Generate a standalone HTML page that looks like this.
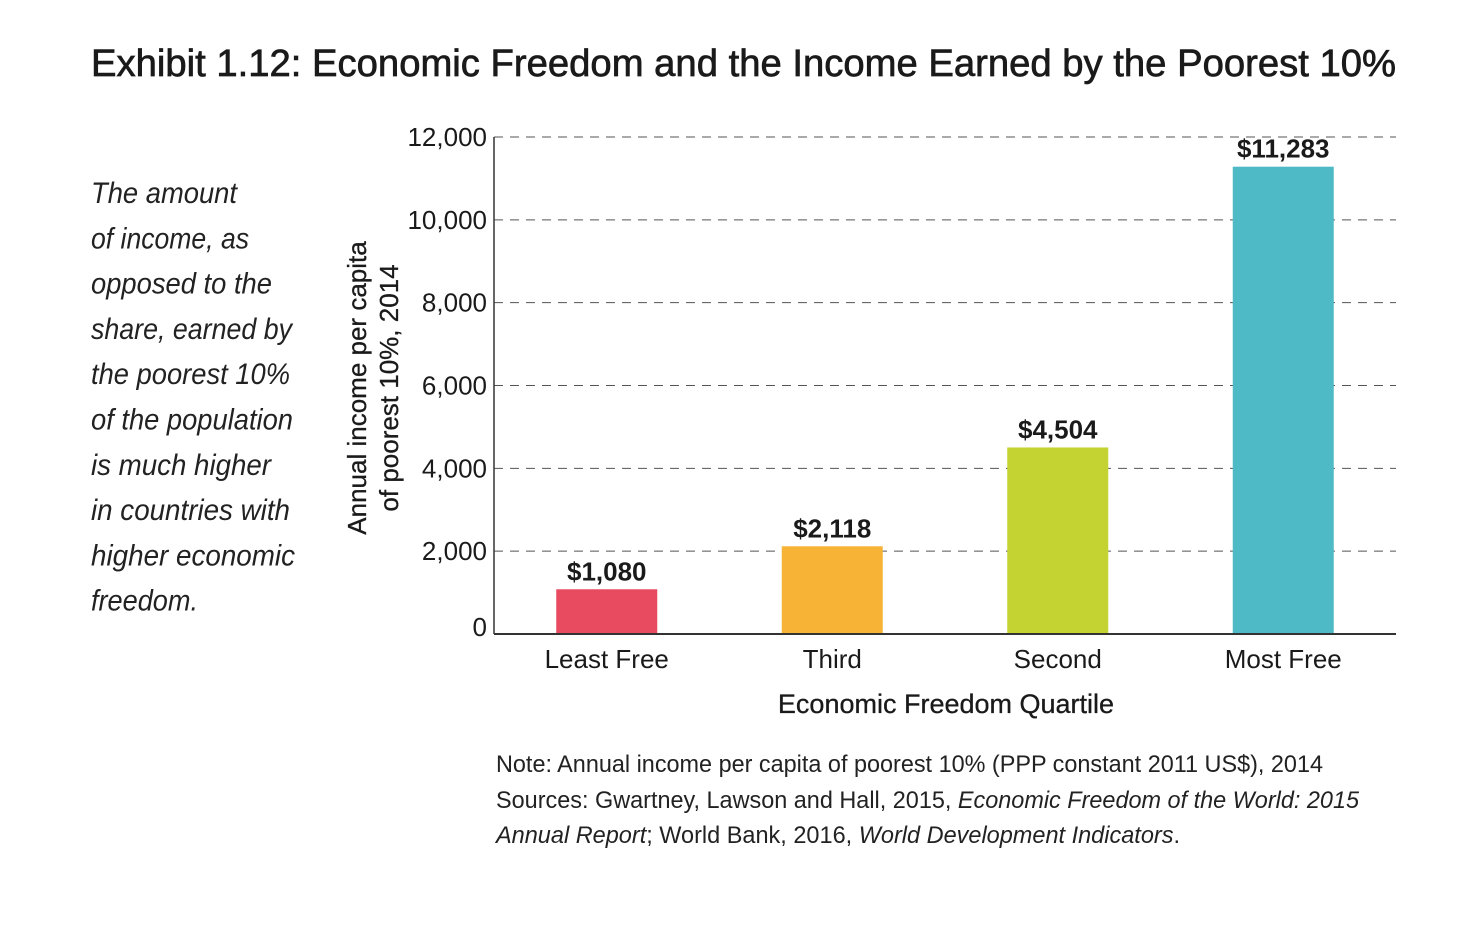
<!DOCTYPE html>
<html><head><meta charset="utf-8"><style>
body{margin:0;background:#fff;}
svg{display:block;font-family:"Liberation Sans",sans-serif;}
</style></head><body>
<svg id="chart" width="1480" height="936" viewBox="0 0 1480 936">
<text x="91" y="76" font-size="38" fill="#1a1a1a" stroke="#1a1a1a" stroke-width="0.7" textLength="1305" lengthAdjust="spacingAndGlyphs">Exhibit 1.12: Economic Freedom and the Income Earned by the Poorest 10%</text>
<g id="side" font-style="italic" font-size="30" fill="#222"></g>
<g id="grid"></g>
<g id="yticks"></g>
<g id="bars"></g>
<g id="xlabels"></g>
<line x1="494" y1="137" x2="494" y2="634" stroke="#333" stroke-width="1.5"/>
<line x1="494" y1="634" x2="1396" y2="634" stroke="#333" stroke-width="2"/>
<g transform="translate(366,388) rotate(-90)" font-size="26" fill="#1a1a1a" stroke="#1a1a1a" stroke-width="0.3" text-anchor="middle">
<text x="0" y="0">Annual income per capita</text>
<text x="0" y="32">of poorest 10%, 2014</text>
</g>
<text x="946" y="713" font-size="27" fill="#1a1a1a" stroke="#1a1a1a" stroke-width="0.3" text-anchor="middle">Economic Freedom Quartile</text>
<g font-size="24" fill="#222">
<text x="496" y="772" textLength="827" lengthAdjust="spacingAndGlyphs">Note: Annual income per capita of poorest 10% (PPP constant 2011 US$), 2014</text>
<text x="496" y="808" textLength="863" lengthAdjust="spacingAndGlyphs">Sources: Gwartney, Lawson and Hall, 2015, <tspan font-style="italic">Economic Freedom of the World: 2015</tspan></text>
<text x="496" y="843" textLength="684" lengthAdjust="spacingAndGlyphs"><tspan font-style="italic">Annual Report</tspan>; World Bank, 2016, <tspan font-style="italic">World Development Indicators</tspan>.</text>
</g>
</svg>
<script>
const categories = ["Least Free","Third","Second","Most Free"];
const values = [1080,2118,4504,11283];
const valueLabels = ["$1,080","$2,118","$4,504","$11,283"];
const colors = ["#e84a5f","#f6b335","#c4d232","#4dbac6"];
const yTicks = [0,2000,4000,6000,8000,10000,12000];
const yTickLabels = ["0","2,000","4,000","6,000","8,000","10,000","12,000"];
const sideLines = ["The amount","of income, as","opposed to the","share, earned by","the poorest 10%","of the population","is much higher","in countries with","higher economic","freedom."];
const sideWidths = [146,158,181,201,199,202,180,199,204,107];

const NS="http://www.w3.org/2000/svg";
const X0=494,X1=1396,Y0=634,Y1=137;
const y=v=>Y0-(v/12000)*(Y0-Y1);
const band=(X1-X0)/categories.length;
const xc=i=>X0+band*(i+0.5);
const bw=101;
function mk(t,a,p,txt){const e=document.createElementNS(NS,t);for(const k in a)e.setAttribute(k,a[k]);if(txt!==undefined)e.textContent=txt;p.appendChild(e);return e;}
const side=document.getElementById('side');
sideLines.forEach((s,i)=>{const e=mk('text',{x:91,y:203+i*45.3,textLength:sideWidths[i],lengthAdjust:'spacingAndGlyphs'},side,s);

});
const grid=document.getElementById('grid'),yt=document.getElementById('yticks');
yTicks.forEach((v,i)=>{
 if(v>0){const l=mk('line',{x1:X0,x2:X1,y1:y(v),y2:y(v),stroke:'#555','stroke-width':1,'stroke-dasharray':'9,7'},grid);
 
 }
 const t=mk('text',{x:487,y:y(v)+(v===0?2:9),'font-size':26,fill:'#1a1a1a','text-anchor':'end'},yt,yTickLabels[i]);
 
 
});
const bars=document.getElementById('bars'),xl=document.getElementById('xlabels');
categories.forEach((c,i)=>{
 const r=mk('rect',{x:xc(i)-bw/2,y:y(values[i]),width:bw,height:Y0-y(values[i]),fill:colors[i]},bars);
 
 
 const vl=mk('text',{x:xc(i),y:y(values[i])-9,'font-size':26,'font-weight':'bold',fill:'#1a1a1a','text-anchor':'middle'},bars,valueLabels[i]);
 
 
 const t=mk('text',{x:xc(i),y:668,'font-size':26,fill:'#1a1a1a','text-anchor':'middle'},xl,c);
 
 
});
</script>
</body></html>
